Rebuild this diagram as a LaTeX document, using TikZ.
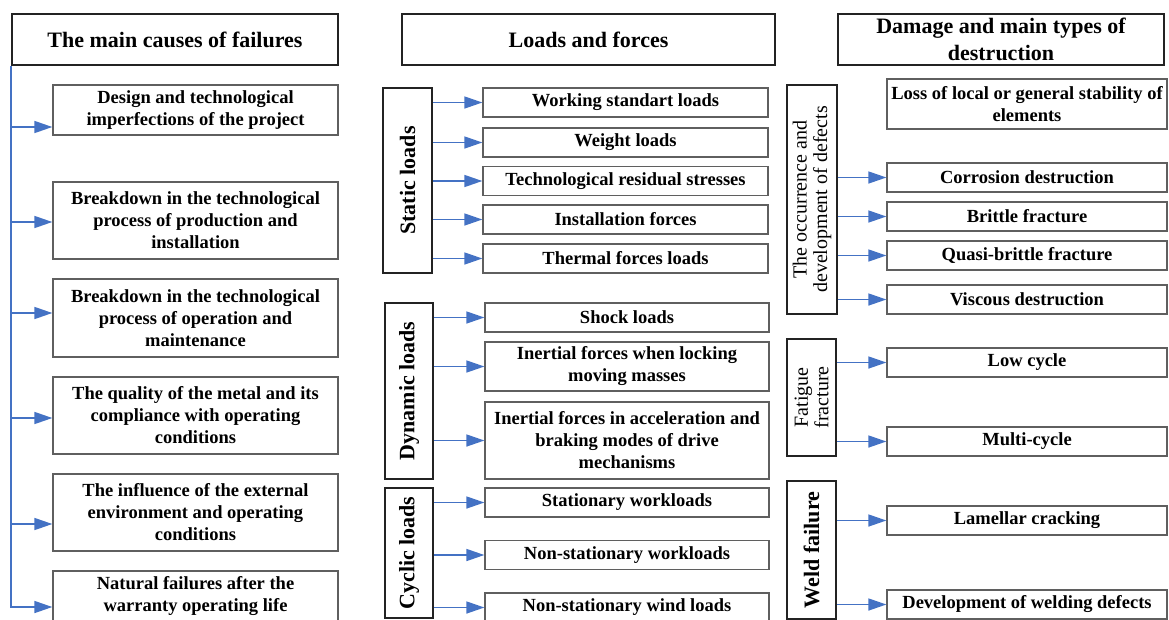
\documentclass[tikz,border=0pt]{standalone}
\usepackage{fontspec}
\setmainfont{Liberation Serif}
\usetikzlibrary{arrows.meta}

\definecolor{arrowblue}{RGB}{68,114,196}
\definecolor{itemgray}{RGB}{95,95,95}
\definecolor{headgray}{RGB}{35,35,35}

\tikzset{
  head/.style={draw=headgray, line width=1.8pt, align=center, inner sep=1pt,
    font=\bfseries\fontsize{22}{27}\selectfont},
  item/.style={draw=itemgray, line width=1.3pt, align=center, inner sep=1pt,
    font=\bfseries\fontsize{18.5}{22}\selectfont},
  group/.style={draw=headgray, line width=1.8pt, align=center, inner sep=1pt, rotate=90,
    font=\bfseries\fontsize{22}{26}\selectfont},
  thingroup/.style={group, font=\fontsize{20}{20.5}\selectfont},
  arr/.style={draw=arrowblue, line width=1.6pt, -{Triangle[length=18pt,width=12pt]}},
}

\begin{document}
\begin{tikzpicture}[x=1pt, y=-1pt]
\path[use as bounding box, clip] (0,0) rectangle (1169,619);

% causes
\node[head, minimum width=326pt, minimum height=51pt] (causes) at (175,39.5) {The main causes of failures};
\node[item, minimum width=285pt, minimum height=50pt] (c1) at (195.5,110) {Design and technological\\imperfections of the project};
\node[item, minimum width=285pt, minimum height=77pt] (c2) at (195.5,220.5) {Breakdown in the technological\\process of production and\\installation};
\node[item, minimum width=285pt, minimum height=78pt] (c3) at (195.5,318) {Breakdown in the technological\\process of operation and\\maintenance};
\node[item, minimum width=285pt, minimum height=77pt] (c4) at (195.5,415.5) {The quality of the metal and its\\compliance with operating\\conditions};
\node[item, minimum width=285pt, minimum height=77pt] (c5) at (195.5,512.5) {The influence of the external\\environment and operating\\conditions};
\node[item, minimum width=285pt, minimum height=50pt] (c6) at (195.5,596) {Natural failures after the\\warranty operating life};

\foreach \n/\dy in {1/-17,2/-1.5,3/5,4/-2.5,5/-11.5}{
  \coordinate (a\n) at ([yshift=\dy pt]c\n.west);
  \draw[arr] (causes.south west |- a\n) -- (a\n);
}
\draw[arr] (causes.south west) |- ([yshift=-11pt]c6.west);

% loads
\node[head, minimum width=373pt, minimum height=51pt] (loads) at (588.5,39.5) {Loads and forces};

\node[group, minimum width=185pt, minimum height=49pt] (static) at (407.5,180.5) {Static loads};
\foreach \n/\y/\t in {1/102.5/Working standart loads, 2/142.5/Weight loads,
    3/181/Technological residual stresses, 4/219.5/Installation forces, 5/258.5/Thermal forces loads}{
  \node[item, minimum width=285pt, minimum height=29pt] (s\n) at (625.5,\y) {\t};
  \draw[arr] (static.south |- s\n.west) -- (s\n.west);
}

\node[group, minimum width=176pt, minimum height=48pt] (dynamic) at (409,391) {Dynamic loads};
\node[item, minimum width=284pt, minimum height=29pt] (d1) at (627,317.5) {Shock loads};
\node[item, minimum width=284pt, minimum height=49pt] (d2) at (627,366.5) {Inertial forces when locking\\moving masses};
\node[item, minimum width=284pt, minimum height=77pt] (d3) at (627,440.5) {Inertial forces in acceleration and\\braking modes of drive\\mechanisms};
\foreach \n in {1,2,3}
  \draw[arr] (dynamic.south |- d\n.west) -- (d\n.west);

\node[group, minimum width=130pt, minimum height=48pt] (cyclic) at (409,553) {Cyclic loads};
\foreach \n/\y/\t in {1/502.5/Stationary workloads, 2/555/Non-stationary workloads, 3/607.5/Non-stationary wind loads}{
  \node[item, minimum width=284pt, minimum height=29pt] (y\n) at (627,\y) {\t};
  \draw[arr] (cyclic.south |- y\n.west) -- (y\n.west);
}

% damage
\node[head, minimum width=326pt, minimum height=51pt] (damage) at (1001,39.5) {Damage and main types of\\destruction};
\node[item, minimum width=280pt, minimum height=50pt] (r0) at (1027,104) {Loss of local or general stability of\\elements};

\node[thingroup, minimum width=229pt, minimum height=50pt] (defects) at (812,199.5) {The occurrence and\\development of defects};
\foreach \n/\y/\t in {1/177.5/Corrosion destruction, 2/216.5/Brittle fracture,
    3/255.5/Quasi-brittle fracture, 4/299.5/Viscous destruction}{
  \node[item, minimum width=280pt, minimum height=29pt] (r\n) at (1027,\y) {\t};
  \draw[arr] (defects.south |- r\n.west) -- (r\n.west);
}

\node[thingroup, minimum width=117pt, minimum height=49pt] (fatigue) at (811.5,397.5) {Fatigue\\fracture};
\node[item, minimum width=280pt, minimum height=29pt] (f1) at (1027,362.5) {Low cycle};
\node[item, minimum width=280pt, minimum height=29pt] (f2) at (1027,441.5) {Multi-cycle};
\foreach \n in {1,2}
  \draw[arr] (fatigue.south |- f\n.west) -- (f\n.west);

\node[group, minimum width=138pt, minimum height=49pt] (weld) at (811.5,550) {Weld failure};
\node[item, minimum width=280pt, minimum height=29pt] (w1) at (1027,520.5) {Lamellar cracking};
\node[item, minimum width=280pt, minimum height=29pt] (w2) at (1027,604.5) {Development of welding defects};
\foreach \n in {1,2}
  \draw[arr] (weld.south |- w\n.west) -- (w\n.west);
\end{tikzpicture}
\end{document}
